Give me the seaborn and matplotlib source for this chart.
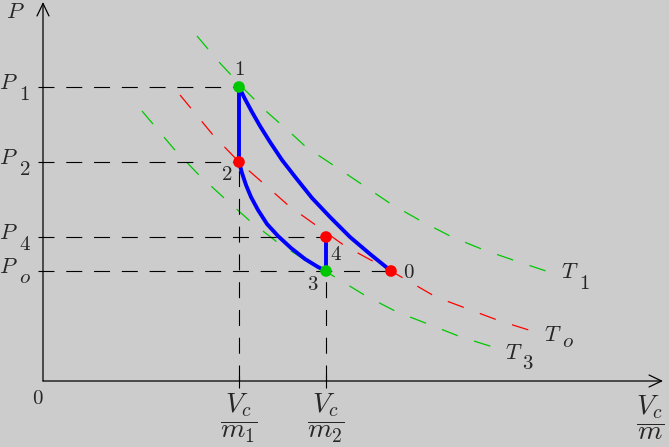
import matplotlib
matplotlib.use("Agg")
import matplotlib.pyplot as plt
import seaborn as sns
import pandas as pd
from matplotlib.patches import FancyArrowPatch

# ---------------- data (V, P in arbitrary units) ----------------
t1_v = [1.54, 1.76, 2.02, 2.24, 2.50, 2.63, 3.05, 3.48, 3.78, 4.09, 4.41, 4.73, 5.06]
t1_p = [3.45, 3.19, 2.91, 2.69, 2.46, 2.34, 2.06, 1.77, 1.60, 1.44, 1.31, 1.20, 1.09]

to_v = [1.37, 1.70, 1.96, 2.20, 2.46, 2.74, 3.02, 3.48, 3.93, 4.25, 4.57, 4.89]
to_p = [2.86, 2.46, 2.19, 1.98, 1.75, 1.55, 1.35, 1.10, 0.84, 0.72, 0.60, 0.50]

t3_v = [0.99, 1.31, 1.55, 1.80, 2.07, 2.34, 2.62, 2.87, 3.23, 3.54, 3.85, 4.18, 4.50]
t3_p = [2.70, 2.32, 2.07, 1.84, 1.60, 1.39, 1.21, 1.07, 0.85, 0.69, 0.57, 0.44, 0.34]

ad10_v = [1.96, 2.02, 2.09, 2.17, 2.27, 2.39, 2.53, 2.69, 2.87, 3.07, 3.27, 3.48]
ad10_p = [2.94, 2.82, 2.69, 2.55, 2.39, 2.21, 2.03, 1.83, 1.64, 1.44, 1.27, 1.10]

ad23_v = [1.96, 1.99, 2.03, 2.08, 2.15, 2.24, 2.35, 2.48, 2.62, 2.75, 2.83]
ad23_p = [2.19, 2.08, 1.96, 1.84, 1.71, 1.57, 1.45, 1.33, 1.22, 1.14, 1.10]

state_names = ["1", "2", "4", "3", "0"]
state_v = [1.96, 1.96, 2.83, 2.83, 3.48]
state_p = [2.94, 2.19, 1.44, 1.10, 1.10]
state_kind = ["g", "r", "r", "g", "r"]

p_levels = [2.94, 2.19, 1.44, 1.10]
p_level_v = [1.96, 1.96, 2.83, 3.48]
p_labels = ["P", "P", "P", "P"]
p_subs = ["1", "2", "4", "o"]

v_levels = [1.96, 2.83]
v_level_p = [2.19, 1.10]
v_labels = [r"$\dfrac{V_c}{m_1}$", r"$\dfrac{V_c}{m_2}$"]

# ---------------- style ----------------
sns.set_theme(style="white")
plt.rcParams["mathtext.fontset"] = "cm"
plt.rcParams["font.family"] = ["DejaVu Serif"]
plt.rcParams["lines.scale_dashes"] = False
BG = "#cccccc"
GREEN = "#00c800"
RED = "#ff0000"
BLUE = "#0000ff"

fig = plt.figure(figsize=(6.69, 4.47), dpi=100)
fig.patch.set_facecolor(BG)
ax = fig.add_axes([0, 0, 1, 1])
ax.set_facecolor(BG)
ax.set_xlim(-0.43, 6.26)
ax.set_ylim(-0.66, 3.81)
ax.axis("off")


def px(x, y):
    return (x - 43) / 100.0, (381 - y) / 100.0


# isotherms
iso_dash = (0, (12.3, 12.3))
for vv, pp, col in [(t1_v, t1_p, GREEN), (to_v, to_p, RED), (t3_v, t3_p, GREEN)]:
    sns.lineplot(x=vv, y=pp, sort=False, estimator=None, ax=ax, color=col,
                 linewidth=0.9, linestyle=iso_dash)

# guide lines
guide_dash = (0, (11.5, 8.5))
ax.hlines(p_levels, -0.05, p_level_v, colors="black", linewidth=0.8, linestyles=[guide_dash])
ax.vlines(v_levels, 0.0, v_level_p, colors="black", linewidth=0.8, linestyles=[guide_dash])
ax.vlines(v_levels, -0.07, 0.06, colors="black", linewidth=0.8)

# axes with arrows
ax.add_patch(FancyArrowPatch(px(43, 381), px(43, 2), arrowstyle="->,head_length=9,head_width=4.3",
                             mutation_scale=1, color="black", linewidth=0.9, shrinkA=0, shrinkB=0))
ax.add_patch(FancyArrowPatch(px(43, 381), px(663, 381), arrowstyle="->,head_length=9,head_width=4.3",
                             mutation_scale=1, color="black", linewidth=0.9, shrinkA=0, shrinkB=0))

# process curves
sns.lineplot(x=ad10_v, y=ad10_p, sort=False, estimator=None, ax=ax, color=BLUE, linewidth=2.8)
sns.lineplot(x=ad23_v, y=ad23_p, sort=False, estimator=None, ax=ax, color=BLUE, linewidth=2.8)
sns.lineplot(x=[state_v[0], state_v[1]], y=[state_p[0], state_p[1]], sort=False, estimator=None,
             ax=ax, color=BLUE, linewidth=2.8)
sns.lineplot(x=[state_v[2], state_v[3]], y=[state_p[2], state_p[3]], sort=False, estimator=None,
             ax=ax, color=BLUE, linewidth=2.8)

df = pd.DataFrame({"V": state_v, "P": state_p, "kind": state_kind})
sns.scatterplot(data=df, x="V", y="P", hue="kind", palette={"g": GREEN, "r": RED},
                s=70, linewidth=0, ax=ax, legend=False, zorder=5)

# ---------------- text ----------------
FS = 16
SUB = 15
NUM = 15
FRAC = 20


def sub_text(xl, yb, main, sub, dx, dy, size=FS, subsize=SUB):
    x, y = px(xl, yb)
    ax.text(x, y, "$" + main + "$", fontsize=size, ha="left", va="baseline")
    x2, y2 = px(xl + dx, yb + dy)
    ax.text(x2, y2, "$" + sub + "$", fontsize=subsize, ha="left", va="baseline")


ax.text(*px(15, 18), "$P$", fontsize=FS, ha="center", va="baseline")
for lvl, m, s in zip(p_levels, p_labels, p_subs):
    yb = 381 - lvl * 100 + 2
    if s == "o":
        sub_text(-1, yb, m, s, 20, 10)
    else:
        sub_text(-1, yb, m, s, 20, 11)

sub_text(561, 278, "T", "1", 18, 11)
sub_text(544, 341, "T", "o", 18, 6)
sub_text(505, 359, "T", "3", 17, 10)

label_pos = {"1": (239, 70), "2": (227, 174), "4": (336, 254), "3": (313, 284), "0": (409, 272)}
for n in state_names:
    ax.text(*px(*label_pos[n]), "$" + n + "$", fontsize=NUM, ha="center", va="center")

ax.text(*px(38, 399), "$0$", fontsize=NUM, ha="center", va="center")
for v, lab in zip(v_levels, v_labels):
    ax.text(v, px(0, 418)[1], lab, fontsize=FRAC, ha="center", va="center")
ax.text(*px(650, 418), r"$\dfrac{V_c}{m}$", fontsize=FRAC, ha="center", va="center")

fig.savefig("out.png", dpi=100, facecolor=BG)
